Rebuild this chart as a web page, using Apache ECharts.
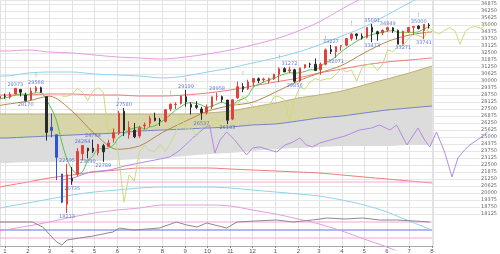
<!DOCTYPE html>
<html><head><meta charset="utf-8">
<script src="https://cdn.jsdelivr.net/npm/echarts@6/dist/echarts.min.js"></script>
<style>html,body{margin:0;padding:0;background:#fff}#c{width:500px;height:254px}</style>
</head><body><div id="c"></div>
<script>
// ---------- weekly candles (Wednesday of each week, starting 2019-12-25) ----------
const weekOpen = [28455,28654,28553,28843,29250,28750,28320,29100,29400,28600,25591,25200,21700,19000,21300,21700,23500,24000,24000,23580,24220,24160,24900,25340,27300,25190,25600,25100,26000,26200,26700,26500,26400,27500,27900,28000,28600,27900,27800,27500,27200,27700,28600,28600,28300,26600,28500,29500,29300,29900,30200,30100,30000,30200,30600,31100,30900,31000,30000,31200,31500,31500,31000,31500,32800,32600,33100,33200,33800,34200,34000,33900,34800,34400,34300,34550,34750,34500,33300,34400,34800,34900,34500,35000];
const weekHigh = [28701,28873,29009,29373,29287,28962,29408,29568,29502,28600,27102,25200,21700,22595,22316,24008,24264,24030,24764,24390,24386,24750,25758,27338,27580,26400,26250,26000,26300,26900,27170,26700,27480,28000,28100,28700,29199,28100,28200,27700,27900,28600,28958,28700,28300,28400,29933,29800,30116,30230,30320,30300,30300,30640,31200,31220,31272,31100,31200,31470,31640,32010,31650,32900,33227,33100,33200,33800,34260,34260,34250,34811,35091,34500,34600,34849,34800,34600,34500,34800,34900,35000,35062,35170];
const weekLow = [28376,28419,28418,28819,28627,28170,28290,28980,28939,24681,24971,21154,19094,18213,20735,21470,22930,23090,23560,23361,22789,24130,24500,25180,25083,24843,24900,24900,25700,25900,26400,25990,26300,27300,27500,27900,27700,27000,27500,26537,27000,27500,28250,28100,26143,26500,28400,29000,29200,29500,29800,29900,29800,30100,29880,30800,30700,29856,29900,31100,31200,30900,30550,31400,32400,32071,32700,33100,33600,33700,33700,33800,33473,33600,34100,34400,34300,33280,33271,34300,34100,34600,33741,34700];
const weekClose = [28645,28635,28823,29348,28990,28256,29103,29398,28992,25409,25865,23186,19174,21637,21053,23719,24242,23775,23724,24331,23685,24465,25383,27111,25606,25871,25016,25827,26075,26672,26470,26428,27433,27931,27930,28654,28133,27666,27657,27174,27682,28586,28606,28335,26502,28323,29480,29263,29910,30218,30046,30179,30200,30606,31098,30814,30997,29983,31148,31458,31494,30932,31496,32779,32628,33073,33153,33801,34200,34043,33875,34778,34382,34208,34529,34756,34480,33290,34433,34786,34870,34688,35061,34935];
const blueWeeks = [11, 12, 13];            // 1-based week numbers drawn in blue
const maShort = [28400,28500,28600,28750,28850,28800,28850,28950,28950,28300,27500,26400,24500,23000,22100,21700,21900,22900,23300,23950,23950,24000,24300,24950,25250,25650,25800,25900,25700,25900,26000,26300,26600,27000,27400,27700,28000,28050,28000,27850,27650,27750,27950,28100,27900,27850,28250,28400,28700,29450,29700,29900,30100,30250,30450,30600,30750,30700,30750,30850,31000,31000,31300,31650,31850,32200,32600,32950,33250,33550,33800,34000,34150,34250,34350,34450,34500,34350,34350,34350,34350,34400,34650,34850];
const leadWeeks = 12;   // the pale green price line is drawn 12 weeks ahead

// ---------- bands and channel lines, read at month starts ----------
const monthDates = ['2019-12-25','2020-01-01','2020-02-01','2020-03-01','2020-04-01','2020-05-01','2020-06-01','2020-07-01','2020-08-01','2020-09-01','2020-10-01','2020-11-01','2020-12-01','2021-01-01','2021-02-01','2021-03-01','2021-04-01','2021-05-01','2021-06-01','2021-07-01','2021-08-01'];
const magentaUp = [32680,32680,32769,32590,32501,32323,32144,32055,31965,32144,32412,32769,33216,33751,34466,35270,36430,37502,38574,39645,40717];
const cyanUp    = [30447,30447,30715,30804,30804,30626,30537,30447,30269,30447,30804,31162,31608,32055,32590,33216,34019,34823,35895,36966,38038];
const redUp     = [28751,28751,28751,28840,28840,28751,28751,28661,28661,28751,28929,29197,29554,29911,30269,30715,31072,31429,31697,31876,32055];
const redDn     = [20535,20624,20981,21339,21607,21874,22053,22232,22232,22232,22232,22142,22053,21964,21874,21785,21607,21428,21250,21071,20892];
const cyanDn    = [18660,18749,19106,19463,19820,20088,20267,20446,20535,20535,20535,20446,20267,20088,19910,19731,19374,18928,18302,17499,16695];
const magentaDn = [16606,16695,17052,17409,17856,18213,18481,18660,18928,18928,18928,18838,18481,18124,17677,17231,16606,15891,15177,14373,13569];
const blueLine  = [24911,24911,25000,25089,25179,25268,25357,25536,25625,25714,25804,25893,26072,26161,26429,26697,26875,27143,27411,27590,27768];
const khakiTop  = [27054,27054,27054,27054,27054,27054,27054,27054,27054,27054,27143,27322,27679,28036,28483,28751,29108,29644,30179,30715,31340];
const grayBottom= [22678,22678,22767,22767,22857,22857,22946,23035,23125,23303,23482,23571,23750,23929,24018,24107,24196,24196,24196,24285,24285];
const maLong    = [27800,27900,28200,28650,27300,25300,23900,24200,25400,26400,27300,27800,28100,29000,30000,30700,31400,32500,33500,34100,34400];
const pinkLevel = 20981;

// ---------- purple line ----------
const purpleDates = ['2020-03-18','2020-04-02','2020-04-25','2020-05-22','2020-06-11','2020-07-01','2020-07-22','2020-08-11','2020-08-25','2020-09-11','2020-09-27','2020-10-04','2020-10-11','2020-10-18','2020-10-27','2020-11-07','2020-11-23','2020-12-01','2020-12-11','2020-12-24','2021-01-03','2021-01-14','2021-01-25','2021-02-03','2021-02-12','2021-02-20','2021-03-02','2021-03-16','2021-04-05','2021-04-25','2021-05-11','2021-05-22','2021-06-05','2021-06-14','2021-06-28','2021-07-13','2021-07-22','2021-07-29','2021-08-07','2021-08-18','2021-08-28','2021-09-05','2021-09-14','2021-09-21','2021-10-05','2021-10-15'];
const purpleVals = [21160,21339,21874,22053,22410,22678,22946,23214,23839,24911,25804,26072,23571,24732,25446,24732,23393,24018,24107,23839,23661,24285,24553,24911,24285,24107,24464,24732,25089,25625,25804,26072,25625,26072,24285,25804,24732,24107,25446,23661,21428,23125,23839,24285,24911,25446];

// ---------- lower oscillator ----------
const oscDates = ['2019-12-25','2020-02-07','2020-02-21','2020-03-02','2020-03-11','2020-03-18','2020-03-25','2020-04-11','2020-04-29','2020-05-26','2020-06-04','2020-06-22','2020-07-11','2020-07-28','2020-08-20','2020-09-03','2020-09-17','2020-09-30','2020-10-27','2020-11-10','2020-12-04','2021-01-03','2021-01-25','2021-02-20','2021-03-12','2021-04-05','2021-04-29','2021-05-22','2021-06-14','2021-07-09','2021-07-29'];
const oscVals = [70,70,57.5,37.5,20,12.5,25,30,35,45,55,50,52.5,55,70,62.5,57.5,67.5,55,70,72.5,75,70,75,80,77.5,80,75,75,72.5,70];
const oscLevels = [70, 50, 30];

// ---------- peak / trough notes and green signal marks ----------
const noteWeeks = [4,6,8,14,14,15,17,18,19,21,25,37,40,43,45,57,58,65,66,73,73,76,79,82,83];
const noteKinds = ['h','l','h','l','h','l','h','l','h','l','h','h','l','h','l','h','l','h','l','h','l','h','l','h','l'];
const signalWeeks = [1,8,24,34,37,48,55,64,69,82];

// ---------- build ----------
const DAY = 86400000;
const t2020 = new Date(2020,0,1).getTime();
const xMin = t2020 - 6.77*DAY;
const xMax = xMin + 660.5*DAY;
const tickMax = xMin + 586.1*DAY;
const weekStart = new Date(2019,11,25).getTime();
const weekT = weekOpen.map((_,i)=> weekStart + i*7*DAY);
const T = s => { const p = s.split('-'); return new Date(+p[0], +p[1]-1, +p[2]).getTime(); };
const mT = monthDates.map(T);

const pair = (xs, ys) => xs.map((x,i)=>[x, ys[i]]);
const candles = weekT.map((t,i)=>{
  const item = { value: [t, weekOpen[i], weekClose[i], weekLow[i], weekHigh[i]] };
  if (blueWeeks.includes(i+1)) item.itemStyle = { color:'#2f55d4', color0:'#2f55d4', borderColor:'#2f55d4', borderColor0:'#2f55d4' };
  return item;
});
const lead = weekT.map((t,i)=>[t + leadWeeks*7*DAY, weekClose[i]]);
const notes = noteWeeks.map((w,i)=>{
  const h = noteKinds[i]==='h';
  const v = h ? weekHigh[w-1] : weekLow[w-1];
  return { value:[weekT[w-1], v], label:{ position: h?'top':'bottom', formatter: String(v) } };
});
const signals = signalWeeks.map(w => ({ value:[weekT[w-1], weekHigh[w-1]] }));

const line = (name, data, color, extra) => Object.assign({
  name, type:'line', xAxisIndex:0, yAxisIndex:0, data, showSymbol:false, symbol:'none',
  lineStyle:{ color, width:1 }, smooth:0.3, silent:true, z:3, clip:true
}, extra||{});

const option = {
  animation:false,
  backgroundColor:'#fff',
  grid:[
    { left:0, right:12, top:0, height:250 },                 // price
    { left:0, right:12, top:0, height:213.98 },              // price labels / split lines
    { left:0, right:12, top:210, height:40 },                // oscillator
    { left:0, width:433, top:0, height:250 }                 // month ticks
  ],
  xAxis:[
    { type:'time', gridIndex:0, min:xMin, max:xMax, show:false },
    { type:'time', gridIndex:1, min:xMin, max:xMax, show:false },
    { type:'time', gridIndex:2, min:xMin, max:xMax, show:false },
    { type:'time', gridIndex:3, min:xMin, max:tickMax, minInterval:28*DAY, maxInterval:31*DAY,
      axisLine:{ show:true, lineStyle:{ color:'#aaa' } },
      axisTick:{ show:true, length:2, lineStyle:{ color:'#888' } },
      axisLabel:{ show:true, fontSize:6, color:'#555', margin:2, showMinLabel:false, showMaxLabel:false,
        formatter: v => String(new Date(v).getMonth()+1) },
      splitLine:{ show:true, lineStyle:{ color:'#e2e2e2', width:1 } } }
  ],
  yAxis:[
    { type:'value', gridIndex:0, min:14909, max:37234, show:false },
    { type:'value', gridIndex:1, position:'right', min:18125, max:37234, interval:625,
      axisLine:{ show:false }, axisTick:{ show:false },
      axisLabel:{ show:true, fontSize:5, color:'#666', margin:1, showMaxLabel:false, fontFamily:'DejaVu Sans',
        formatter: v => String(v) },
      splitLine:{ show:true, lineStyle:{ color:'#e6e6e6', width:1 } } },
    { type:'value', gridIndex:2, min:0, max:100, show:false },
    { type:'value', gridIndex:3, min:0, max:1, show:false }
  ],
  series:[
    // bands
    line('bandBase', pair(mT, grayBottom), 'rgba(0,0,0,0)', { stack:'band', smooth:0.2, z:1 }),
    line('grayBand', pair(mT, blueLine.map((v,i)=>v-grayBottom[i])), '#6f80c6', { stack:'band', smooth:0.2, z:1,
      areaStyle:{ color:'#dcdcdc', opacity:1 } }),
    line('khakiBand', pair(mT, khakiTop.map((v,i)=>v-blueLine[i])), '#b9ae78', { stack:'band', smooth:0.2, z:1,
      areaStyle:{ color:'#d9d5ab', opacity:1 } }),
    // channel lines
    line('mUp', pair(mT, magentaUp), '#e59be4'),
    line('cUp', pair(mT, cyanUp), '#8fd2ec'),
    line('rUp', pair(mT, redUp), '#ec7b78'),
    line('rDn', pair(mT, redDn), '#ec7b78'),
    line('cDn', pair(mT, cyanDn), '#8fd2ec'),
    line('mDn', pair(mT, magentaDn), '#e59be4'),
    line('pink', [[mT[0], pinkLevel],[mT[mT.length-1], pinkLevel]], '#f3aad6', { smooth:false }),
    line('maLong', pair(mT, maLong), '#b8864a'),
    line('purple', pair(purpleDates.map(T), purpleVals), '#b68ae4', { smooth:false }),
    line('lead', lead, '#c9db7c', { smooth:false }),
    line('maShort', pair(weekT, maShort), '#4fc44f'),
    {
      name:'price', type:'candlestick', xAxisIndex:0, yAxisIndex:0, data:candles, barWidth:2, z:5,
      encode:{ x:0, y:[1,2,3,4] }, silent:true,
      itemStyle:{ color:'#e2403a', color0:'#2a2a2a', borderColor:'#e2403a', borderColor0:'#2a2a2a', borderWidth:1 }
    },
    {
      name:'notes', type:'scatter', xAxisIndex:0, yAxisIndex:0, data:notes, symbolSize:0, z:6, silent:true,
      label:{ show:true, fontSize:5, color:'#3f5fc8', distance:1, fontFamily:'DejaVu Sans' }
    },
    {
      name:'signals', type:'scatter', xAxisIndex:0, yAxisIndex:0, data:signals, symbolSize:0, z:6, silent:true,
      label:{ show:true, position:'top', distance:7, fontSize:6, color:'#39b54a', formatter:'!', fontFamily:'DejaVu Sans' }
    },
    // oscillator
    { name:'osc', type:'line', xAxisIndex:2, yAxisIndex:2, data:pair(oscDates.map(T), oscVals), symbol:'none',
      lineStyle:{ color:'#8a8a8a', width:1 }, silent:true, z:3 },
    ...oscLevels.map((lv,i)=>({ name:'lv'+i, type:'line', xAxisIndex:2, yAxisIndex:2, symbol:'none', silent:true, z:2,
      data:[[mT[0], lv],[mT[mT.length-1], lv]], lineStyle:{ color: lv===50 ? '#6472d6' : '#f0a6dc', width:1 } }))
  ]
};
const chart = echarts.init(document.getElementById('c'), null, { renderer:'canvas' });
chart.setOption(option);
</script></body></html>
